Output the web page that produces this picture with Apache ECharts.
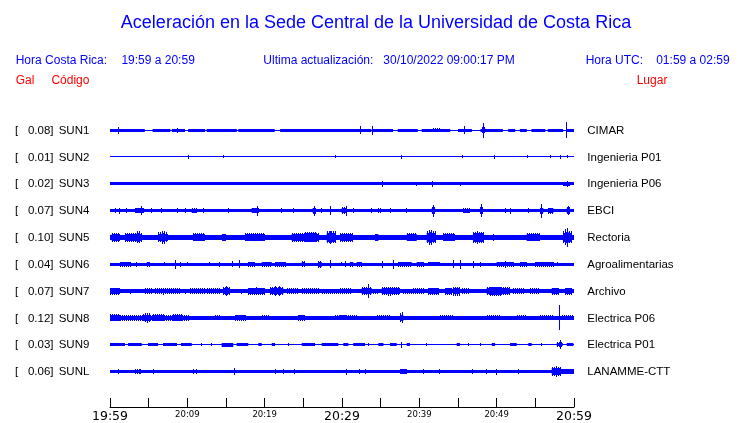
<!DOCTYPE html>
<html>
<head>
<meta charset="utf-8">
<script src="https://cdn.jsdelivr.net/npm/echarts@6/dist/echarts.min.js"></script>
<style>
html,body{margin:0;padding:0;background:#fff;}
#chart{width:740px;height:423px;}
</style>
</head>
<body>
<div id="chart"></div>
<script>
// ---- text content ----
const codes = ['SUN1','SUN2','SUN3','SUN4','SUN5','SUN6','SUN7','SUN8','SUN9','SUNL'];
const peakGal = ['0.08','0.01','0.02','0.07','0.10','0.04','0.07','0.12','0.03','0.06'];
const places = ['CIMAR','Ingenieria P01','Ingenieria P06','EBCI','Rectoria','Agroalimentarias','Archivo','Electrica P06','Electrica P01','LANAMME-CTT'];
const tickLabels = {0:'19:59',10:'20:09',20:'20:19',30:'20:29',40:'20:39',50:'20:49',60:'20:59'};
const bigTicks = [0,30,60];

// ---- trace envelopes: base half-thickness, and bursts [startMin, endMin, halfAmplitude] ----
const sun1Base = 0.5;
const sun1Bursts = [[0,4.5,1.6],[5.5,7.8,1.6],[8,9.7,1.6],[10.1,12.3,1.6],[12.5,16.4,1.6],[16.6,21.3,1.6],[22,33.8,1.6],[34,36.6,1.6],[37.2,39.8,1.6],[40.3,44,1.6],[45,46.8,1.6],[47.9,50.8,1.6],[51.5,52.4,1.6],[53,53.9,1.6],[54.5,56.3,1.6],[56.6,58.6,1.6],[59.1,60,1.6],
  [1.16,1.16,3.5],[8.75,8.75,2.5],[32.4,32.4,4],[33.9,33.9,4.5],[41.8,42.7,2.2],[45.9,45.9,4],[48.1,48.5,3],[48.3,48.3,7.5],[59.06,59.06,8]];
const sun2Base = 0.5;
const sun2Bursts = [[10.13,10.13,1.8],[14.65,14.65,1.5],[29.1,29.1,1.5],[37.72,37.72,2],[45.61,45.61,1.5],[49.7,49.7,2],[53.96,53.96,1.5],[56.99,56.99,1.5],[58.28,58.28,2],[59.19,59.19,1.5]];
const sun3Base = 1.7;
const sun3Bursts = [[35.21,35.21,2.8],[39.66,39.66,2.2],[41.68,41.68,2.8],[45.26,45.26,2.2],[58.6,59.5,2.3],[59.19,59.19,2.8]];
const sun4Base = 1.5;
const sun4Bursts = [[0.65,0.65,2.5],[1.29,1.29,3],[2.16,2.16,2.2],[3.23,4.31,2.8],[4.01,4.01,4.5],[5.39,5.39,2.5],[6.69,6.69,2.5],[8.63,8.75,2.5],[9.7,9.7,2.2],[10.57,11.21,2.5],[12.07,12.07,2.2],[15.3,15.3,2.5],[18.32,19.27,2.8],[19.1,19.1,5],[22.2,22.2,2.5],[23.7,23.7,2.5],[26.2,26.6,3],[26.42,26.42,5],[27.38,27.38,2.5],[28.45,28.67,3.5],[28.5,28.5,4.5],[29.96,30.61,3.2],[30.52,30.52,5],[31.46,31.46,2.2],[33.84,33.84,2.5],[34.66,35.14,2.2],[36.21,36.21,2.2],[38.37,38.37,2.5],[41.6,42.03,3.5],[41.8,41.8,6],[45.69,46.55,2.5],[47.85,48.2,3.5],[48.0,48.0,6.5],[51.08,51.08,2.2],[51.82,51.82,3],[54.09,54.09,2.2],[55.61,56.03,3],[55.82,55.82,7],[56.68,57.33,3],[59.06,59.49,3.5],[59.3,59.3,4.5]];
const sun5Base = 2.9;
const sun5Bursts = [[0.22,1.29,4.5],[1.94,4.1,4.3],[3.45,3.88,6],[6.21,7.5,5],[6.7,7.0,6.5],[10.73,12.28,4],[14.5,15,3.6],[17.46,20.04,4],[23.5,26.94,4.3],[25.22,26.51,5],[28.02,29.1,6],[28.4,28.6,6.8],[29.74,31.42,4.5],[34.3,34.7,3.6],[38.37,39.66,4],[40.95,42.03,6],[41.3,41.6,7.5],[43.06,44.61,4],[46.94,48.24,5.5],[47.5,47.6,6.5],[49.5,49.7,3.6],[53.88,55.6,4],[58.58,59.7,6],[58.9,59.3,8],[59.1,59.1,10]];
const sun6Base = 1.5;
const sun6Bursts = [[1.29,2.59,2.5],[3.45,3.45,2.5],[4.75,5.17,2.5],[7.02,7.02,2.2],[8.41,8.41,4.5],[9.18,9.18,2.5],[10.05,10.05,2.2],[12.93,12.93,2.2],[14.22,14.22,2.5],[15.74,15.94,3],[16.81,16.81,4],[17.88,18.75,2.5],[19.62,20.91,2.5],[21.34,22.63,2.5],[24.79,25.22,3],[26.94,27.38,3.5],[28.45,28.45,4],[29.96,29.96,2.2],[30.39,30.39,3],[31.04,31.46,2.5],[31.9,32.55,2.5],[35.26,35.26,3.5],[36.63,36.63,4.5],[37.24,39.01,2.5],[39.66,40.51,2.5],[41.12,42.67,2.2],[44.39,44.39,4],[45.26,45.26,4.5],[46.98,46.98,3.5],[47.85,47.85,2.5],[50.0,52.15,2.5],[51.08,51.08,3.5],[53.02,53.88,2.5],[54.96,57.33,2.5],[57.93,57.93,2.2]];
const sun7Base = 1.8;
const sun7Bursts = [[0,1.29,3.5],[2.59,2.81,2.5],[3.45,3.45,2.2],[4.53,5.39,3],[5.82,8.19,3],[6.9,6.9,3.5],[8.41,9.05,3],[9.7,9.7,2.5],[10.35,12.28,3],[12.5,14.22,3],[14.65,15.52,4.3],[15.09,15.09,5],[17.03,17.03,2.5],[17.88,20.04,3.5],[18.8,19.0,4],[20.69,22.41,4.3],[21.34,21.34,5],[21.98,21.98,5],[22.85,24.35,3],[24.79,26.94,3],[27.38,29.52,2.5],[29.74,31.26,3],[32.55,33.84,4.3],[33.4,33.4,6.7],[34.05,34.7,2.5],[35.14,37.5,4],[36.0,36.3,4.5],[37.89,39.01,2.5],[39.22,40.51,3],[41.16,42.45,3.5],[43.32,44.19,3.5],[44.39,45.26,4.5],[45.48,46.55,3],[48.71,51.73,4],[49.2,50.5,4.5],[52.15,53.45,3],[54.31,55.6,3],[57.12,57.97,3.5],[58.84,59.7,3.5]];
const sun8Base = 2.0;
const sun8Bursts = [[0,10.1,2.8],[0,1.29,3.5],[4.31,4.95,3.5],[4.53,5.17,4.5],[4.87,4.87,5],[5.6,7.11,3.5],[8.19,9.27,3.5],[13.58,14.22,2.5],[16.16,17.46,3],[19.62,20.47,2.5],[24.35,25.22,3],[29.1,30.39,2.5],[29.74,31.9,2.5],[34.49,36.21,2.5],[37.5,37.93,4.5],[37.76,37.76,5.5],[42.67,44.39,2.5],[48.71,50.43,2.5],[52.59,53.88,2.5],[55.6,57.33,2.5],[58.13,58.13,12.5],[58.41,60,2.5]];
const sun9Base = 0.7;
const sun9Bursts = [[0,0.65,1.3],[0.65,1.94,1.5],[2.33,4.1,1.5],[4.91,6.21,1.3],[6.85,8.66,1.3],[9.18,10.57,1.3],[11.86,11.86,1.5],[13.15,13.15,1.5],[14.44,15.94,1.8],[16.38,17.88,1.3],[19.18,19.62,1.5],[20.91,21.34,1.5],[23.06,23.06,1.5],[24.79,26.51,1.6],[27.38,29.52,1.3],[30.17,30.82,1.5],[31.46,32.98,1.3],[33.4,33.4,1.5],[34.7,35.35,1.5],[36.21,37.07,1.6],[37.72,37.72,3],[38.37,38.79,1.5],[40.95,40.95,1.5],[44.83,45.26,1.5],[46.33,46.33,1.5],[47.85,47.85,1.5],[49.36,49.79,1.6],[51.73,52.59,1.5],[54.09,54.53,1.5],[55.82,55.82,1.5],[57.76,58.54,2.5],[58.19,58.19,4.5],[59.06,59.92,1.5]];
const sunLBase = 1.7;
const sunLBursts = [[1.07,1.07,2.5],[3.23,3.88,2.2],[3.88,3.88,2.7],[5.6,5.6,2.2],[10.77,10.77,2.2],[11.21,11.21,2.5],[16.07,16.07,3.8],[21.34,21.34,2.2],[22.41,22.41,2.5],[23.92,23.92,2.5],[30.52,30.52,3],[32.24,32.24,2.5],[33.1,33.1,2.2],[37.5,38.37,2.5],[40.51,40.51,2.2],[42.58,42.58,2.2],[46.9,46.9,2.5],[48.71,48.71,2.2],[50.0,50.0,3],[52.8,52.8,2.5],[57.12,58.19,4.5],[57.6,57.8,5.8],[58.2,60,2.1]];

const bases = [sun1Base,sun2Base,sun3Base,sun4Base,sun5Base,sun6Base,sun7Base,sun8Base,sun9Base,sunLBase];
const bursts = [sun1Bursts,sun2Bursts,sun3Bursts,sun4Bursts,sun5Bursts,sun6Bursts,sun7Bursts,sun8Bursts,sun9Bursts,sunLBursts];

// ---- layout ----
const BLUE = '#0000ff', RED = '#ff0000';
const FIRST_ROW = 21.3, ROW_STEP = 27; // y-axis units (1 unit = 1 px)
const rowCenter = i => FIRST_ROW + ROW_STEP * i;

function bar(x, y0, y1, w) {
  y0 = Math.round(y0); y1 = Math.round(y1);
  if (y1 - y0 < 1) y1 = y0 + 1;
  return { type: 'rect', shape: { x: x, y: y0, width: w, height: y1 - y0 }, style: { fill: BLUE } };
}

function traceRenderer(center, base) {
  return function (params, api) {
    const t0 = api.value(0), t1 = api.value(1), h = api.value(2);
    const p0 = api.coord([t0, center - h]);
    const p1 = api.coord([t1, center + h]);
    const x0 = p0[0], x1 = p1[0];
    if (x1 - x0 < 2) {
      // single spike
      return bar(Math.floor((x0 + x1) / 2), p0[1], p1[1], 1);
    }
    if (params.dataIndex === 0 || h < 2.2) {
      // continuous band segment
      return bar(x0, p0[1], p1[1], x1 - x0);
    }
    // burst: dense core plus fine vertical strokes reaching the envelope
    const mid = (h + base) / 2;
    const c0 = api.coord([t0, center - mid]), c1 = api.coord([t1, center + mid]);
    const children = [bar(x0, c0[1], c1[1], x1 - x0)];
    for (let x = Math.round(x0); x < x1; x += 2) {
      children.push(bar(x, p0[1], p1[1], 1));
    }
    return { type: 'group', children: children };
  };
}

const series = bursts.map((b, i) => ({
  type: 'custom',
  name: codes[i],
  renderItem: traceRenderer(rowCenter(i), bases[i]),
  data: [[0, 60, bases[i]]].concat(b),
  encode: { x: [0, 1] },
  animation: false,
  silent: true
}));

series.push({
  type: 'custom',
  name: 'labels',
  animation: false,
  silent: true,
  data: codes.map((c, i) => [0, rowCenter(i), i]),
  encode: { x: 0, y: 1 },
  renderItem: function (params, api) {
    const i = api.value(2);
    const left = api.coord([0, rowCenter(i)]);
    const right = api.coord([60, rowCenter(i)]);
    const y = left[1] + 0.5;
    const font = '11.5px "Liberation Sans", Arial, sans-serif';
    return {
      type: 'group',
      children: [
        { type: 'text', style: { x: left[0] - 95, y: y, text: '[', font: font, fill: '#000', textAlign: 'left', textVerticalAlign: 'middle' } },
        { type: 'text', style: { x: left[0] - 56.5, y: y, text: peakGal[i] + ']', font: font, fill: '#000', textAlign: 'right', textVerticalAlign: 'middle' } },
        { type: 'text', style: { x: left[0] - 51.3, y: y, text: codes[i], font: font, fill: '#000', textAlign: 'left', textVerticalAlign: 'middle' } },
        { type: 'text', style: { x: right[0] + 13.3, y: y, text: places[i], font: font, fill: '#000', textAlign: 'left', textVerticalAlign: 'middle' } }
      ]
    };
  }
});

const chart = echarts.init(document.getElementById('chart'), null, { renderer: 'canvas' });
const hdrFont = '12px "Liberation Sans", Arial, sans-serif';
chart.setOption({
  animation: false,
  backgroundColor: '#fff',
  grid: { left: 110, right: 166, top: 109, bottom: 14, containLabel: false },
  xAxis: {
    type: 'value', min: 0, max: 60, interval: 5, position: 'bottom',
    axisLine: { show: true, onZero: false, lineStyle: { color: '#000', width: 1 } },
    axisTick: { show: true, inside: true, length: 9, lineStyle: { color: '#000', width: 1 } },
    splitLine: { show: false },
    axisLabel: {
      margin: 2,
      formatter: function (v) {
        const t = tickLabels[v];
        if (!t) return '';
        return bigTicks.indexOf(v) >= 0 ? '{big|' + t + '}' : '{small|' + t + '}';
      },
      rich: {
        big: { fontFamily: 'DejaVu Sans', fontSize: 12.5, lineHeight: 15, color: '#000' },
        small: { fontFamily: 'DejaVu Sans', fontSize: 8.5, lineHeight: 11, color: '#000' }
      }
    }
  },
  yAxis: { type: 'value', min: 0, max: 300, inverse: true, show: false },
  graphic: [
    { type: 'text', x: 376, y: 23.5, style: { text: 'Aceleración en la Sede Central de la Universidad de Costa Rica', font: '18px "Liberation Sans", Arial, sans-serif', fill: BLUE, textAlign: 'center', textVerticalAlign: 'middle' } },
    { type: 'text', x: 15.7, y: 61, style: { text: 'Hora Costa Rica:', font: hdrFont, fill: BLUE, textVerticalAlign: 'middle' } },
    { type: 'text', x: 121.4, y: 61, style: { text: '19:59 a 20:59', font: hdrFont, fill: BLUE, textVerticalAlign: 'middle' } },
    { type: 'text', x: 263.3, y: 61, style: { text: 'Ultima actualización:', font: hdrFont, fill: BLUE, textVerticalAlign: 'middle' } },
    { type: 'text', x: 383.3, y: 61, style: { text: '30/10/2022 09:00:17 PM', font: hdrFont, fill: BLUE, textVerticalAlign: 'middle' } },
    { type: 'text', x: 585.7, y: 61, style: { text: 'Hora UTC:', font: hdrFont, fill: BLUE, textVerticalAlign: 'middle' } },
    { type: 'text', x: 656.2, y: 61, style: { text: '01:59 a 02:59', font: hdrFont, fill: BLUE, textVerticalAlign: 'middle' } },
    { type: 'text', x: 15.7, y: 81, style: { text: 'Gal', font: hdrFont, fill: RED, textVerticalAlign: 'middle' } },
    { type: 'text', x: 51.4, y: 81, style: { text: 'Código', font: hdrFont, fill: RED, textVerticalAlign: 'middle' } },
    { type: 'text', x: 636.7, y: 81, style: { text: 'Lugar', font: hdrFont, fill: RED, textVerticalAlign: 'middle' } }
  ],
  series: series
});
</script>
</body>
</html>
